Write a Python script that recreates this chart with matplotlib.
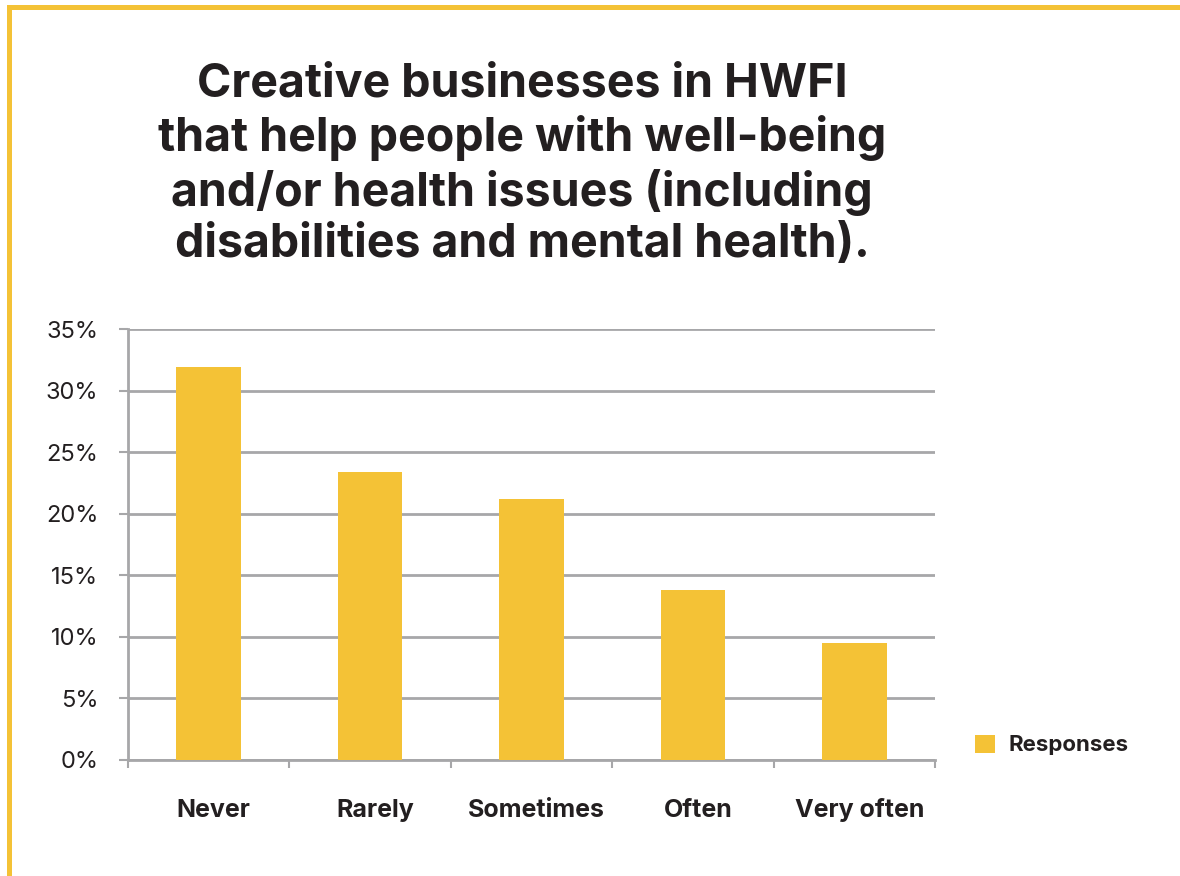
import matplotlib
matplotlib.use("Agg")
import matplotlib.pyplot as plt
from matplotlib.patches import Rectangle
from matplotlib.ticker import FixedLocator, FuncFormatter
from matplotlib.transforms import ScaledTranslation

plt.rcParams["font.family"] = ["Inter", "DejaVu Sans"]

categories = ["Never", "Rarely", "Sometimes", "Often", "Very often"]
responses = [31.9, 23.4, 21.2, 13.8, 9.5]
yticks = [0, 5, 10, 15, 20, 25, 30, 35]
title = ("Creative businesses in HWFI\nthat help people with well-being\n"
         "and/or health issues (including\ndisabilities and mental health).")

YELLOW = "#F4C236"
GRID = "#A7A7A9"
INK = "#231F20"

fig = plt.figure(figsize=(11.8, 8.76), dpi=100)
W, H = 1180, 876

# frame lines along top and left edge
fig.add_artist(Rectangle((7 / W, 1 - 10 / H), 1, 5 / H, transform=fig.transFigure,
                         facecolor=YELLOW, edgecolor="none"))
fig.add_artist(Rectangle((7 / W, 0), 5 / W, 1 - 5 / H, transform=fig.transFigure,
                         facecolor=YELLOW, edgecolor="none"))

ax = fig.add_axes([128 / W, 1 - 760 / H, (935 - 128) / W, (760 - 329) / H])
x = range(len(categories))
ax.bar(x, responses, width=0.4, color=YELLOW, zorder=3, label="Responses")

ax.set_xlim(-0.5, len(categories) - 0.5)
ax.set_ylim(0, 35)
ax.yaxis.set_major_locator(FixedLocator(yticks))
ax.yaxis.set_major_formatter(FuncFormatter(lambda v, p: f"{v:.0f}%"))
ax.grid(axis="y", color=GRID, lw=2, zorder=1)
ax.tick_params(axis="y", length=6.5, width=1.5, color=GRID, pad=15,
               labelsize=17, labelcolor=INK)

# category labels centred (nudged a little right), ticks on the boundaries
ax.set_xticks(list(x))
ax.set_xticklabels(categories, fontsize=18, fontweight="bold", color=INK)
ax.tick_params(axis="x", which="major", length=0, pad=41)
nudge = ScaledTranslation(5 / 100, 0, fig.dpi_scale_trans)
for lbl in ax.get_xticklabels():
    lbl.set_va("baseline")
    lbl.set_transform(lbl.get_transform() + nudge)
ax.set_xticks([i - 0.5 for i in range(len(categories) + 1)], minor=True)
ax.tick_params(axis="x", which="minor", length=6, width=1.5, color=GRID)

for s in ["top", "right"]:
    ax.spines[s].set_visible(False)
for s in ["left", "bottom"]:
    ax.spines[s].set_color(GRID)
    ax.spines[s].set_linewidth(2)

fig.text(522 / W, 1 - 165 / H, title, ha="center", va="center", fontsize=33.5,
         fontweight="bold", color=INK, linespacing=1.22)

fig.legend(loc="center left", bbox_to_anchor=(955 / W, 1 - 745 / H), frameon=False,
           prop={"size": 16, "weight": "bold"}, handlelength=0.9, handleheight=0.9,
           handletextpad=0.6, labelcolor=INK)

fig.savefig("out.png", dpi=100)
